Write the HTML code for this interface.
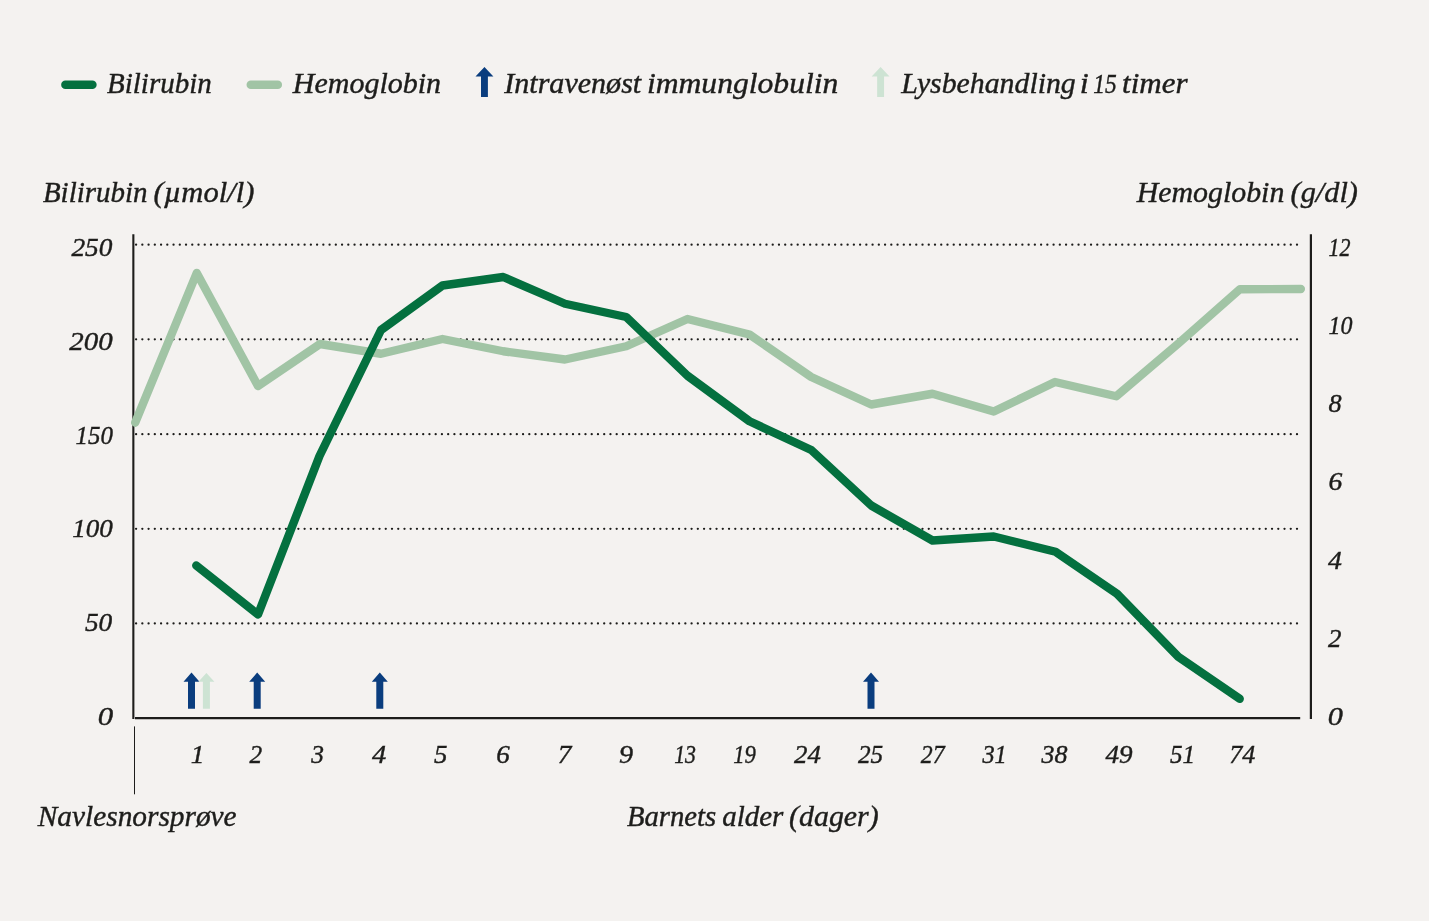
<!DOCTYPE html>
<html lang="no"><head><meta charset="utf-8"><title>Bilirubin og hemoglobin</title>
<style>html,body{margin:0;padding:0;background:#f4f2f0}svg{display:block}text{font-family:"Liberation Serif",serif;font-style:italic;fill:#1d1d1b}text{stroke:#1d1d1b;stroke-width:0.42px;paint-order:stroke}.t{font-size:30px}.n{font-size:26.2px}</style></head><body>
<svg width="1429" height="921" viewBox="0 0 1429 921">
<rect width="1429" height="921" fill="#f4f2f0"/>
<line x1="136.1" y1="244.7" x2="1297.2" y2="244.7" stroke="#1d1d1b" stroke-width="2.3" stroke-linecap="round" stroke-dasharray="0 6.2414"/>
<line x1="136.1" y1="339.3" x2="1297.2" y2="339.3" stroke="#1d1d1b" stroke-width="2.3" stroke-linecap="round" stroke-dasharray="0 6.2414"/>
<line x1="136.1" y1="434.2" x2="1297.2" y2="434.2" stroke="#1d1d1b" stroke-width="2.3" stroke-linecap="round" stroke-dasharray="0 6.2414"/>
<line x1="136.1" y1="528.8" x2="1297.2" y2="528.8" stroke="#1d1d1b" stroke-width="2.3" stroke-linecap="round" stroke-dasharray="0 6.2414"/>
<line x1="136.1" y1="623.4" x2="1297.2" y2="623.4" stroke="#1d1d1b" stroke-width="2.3" stroke-linecap="round" stroke-dasharray="0 6.2414"/>
<line x1="133.35" y1="234.3" x2="133.35" y2="718.9" stroke="#1d1d1b" stroke-width="2.1"/>
<line x1="135.0" y1="718.1" x2="1300.2" y2="718.1" stroke="#1d1d1b" stroke-width="2.1"/>
<line x1="1310.9" y1="234.3" x2="1310.9" y2="718.9" stroke="#1d1d1b" stroke-width="2.2"/>
<line x1="134.5" y1="726.4" x2="134.5" y2="794.3" stroke="#1d1d1b" stroke-width="1"/>
<polyline points="135.2,422.7 196.75,273 258,386 320,344 381,353.75 442.5,339 503.25,351.25 565,359.5 626.25,346.25 687.5,319 749.5,334.5 811.25,377 871.25,404.5 932.5,393.75 993.75,411.5 1055,382 1116.25,396.25 1178.5,343.4 1240,289.2 1300.85,289.05" fill="none" stroke="#a1c4a5" stroke-width="8.4" stroke-linecap="round" stroke-linejoin="round"/>
<polyline points="196.25,565.5 258,614.5 319.5,456 381,330 442.5,285.5 503.25,277 565,303.75 626.25,317 687.5,375.75 749.5,421.25 811.25,450 871.25,505.5 932.5,540.5 993.75,536.5 1055.5,551.75 1117,593.7 1178.25,656.7 1239.7,698.8" fill="none" stroke="#04703f" stroke-width="8.4" stroke-linecap="round" stroke-linejoin="round"/>
<path d="M191.5 672.6L199.5 681.8H195V708.7H188V681.8H183.5Z" fill="#0a3d7e"/>
<path d="M257.2 672.6L265.2 681.8H260.7V708.7H253.7V681.8H249.2Z" fill="#0a3d7e"/>
<path d="M379.8 672.6L387.8 681.8H383.3V708.7H376.3V681.8H371.8Z" fill="#0a3d7e"/>
<path d="M871 672.6L879 681.8H874.5V708.7H867.5V681.8H863Z" fill="#0a3d7e"/>
<path d="M206.4 672.9L214.4 681.8H209.9V708.7H202.9V681.8H198.4Z" fill="#cde3d3"/>
<line x1="65.4" y1="84.65" x2="92.4" y2="84.65" stroke="#04703f" stroke-width="8.5" stroke-linecap="round"/>
<line x1="250.8" y1="84.65" x2="277.8" y2="84.65" stroke="#a1c4a5" stroke-width="8.5" stroke-linecap="round"/>
<path d="M484.45 67L493.4 76.5H487.9V97H481V76.5H475.5Z" fill="#0a3d7e"/>
<path d="M880.6 67L889.55 76.5H884.05V97H877.15V76.5H871.65Z" fill="#cde3d3"/>
<text class="t" y="92.95"><tspan x="107.00" textLength="104.79" lengthAdjust="spacingAndGlyphs">Bilirubin</tspan></text>
<text class="t" y="92.95"><tspan x="292.84" textLength="148.17" lengthAdjust="spacingAndGlyphs">Hemoglobin</tspan></text>
<text class="t" y="92.95"><tspan x="504.26" textLength="136.96" lengthAdjust="spacingAndGlyphs">Intravenøst</tspan> <tspan x="646.94" textLength="191.41" lengthAdjust="spacingAndGlyphs">immunglobulin</tspan></text>
<text class="t" y="92.95"><tspan x="901.22" textLength="174.51" lengthAdjust="spacingAndGlyphs">Lysbehandling</tspan> <tspan x="1079.86" textLength="9.03" lengthAdjust="spacingAndGlyphs">i</tspan> <tspan x="1093.16" textLength="23.44" lengthAdjust="spacingAndGlyphs" style="font-size:27px">15</tspan> <tspan x="1122.12" textLength="65.47" lengthAdjust="spacingAndGlyphs">timer</tspan></text>
<text class="t" y="201.6"><tspan x="42.92" textLength="104.63" lengthAdjust="spacingAndGlyphs">Bilirubin</tspan> <tspan x="153.58" textLength="100.72" lengthAdjust="spacingAndGlyphs">(µmol/l)</tspan></text>
<text class="t" y="201.6"><tspan x="1136.68" textLength="147.69" lengthAdjust="spacingAndGlyphs">Hemoglobin</tspan> <tspan x="1290.58" textLength="67.31" lengthAdjust="spacingAndGlyphs">(g/dl)</tspan></text>
<text class="t" y="825.9"><tspan x="37.80" textLength="198.85" lengthAdjust="spacingAndGlyphs">Navlesnorsprøve</tspan></text>
<text class="t" y="825.9"><tspan x="626.88" textLength="89.30" lengthAdjust="spacingAndGlyphs">Barnets</tspan> <tspan x="722.16" textLength="61.24" lengthAdjust="spacingAndGlyphs">alder</tspan> <tspan x="789.08" textLength="89.61" lengthAdjust="spacingAndGlyphs">(dager)</tspan></text>
<text class="n" y="255.8"><tspan x="71.42" textLength="41.02" lengthAdjust="spacingAndGlyphs">250</tspan></text>
<text class="n" y="350.3"><tspan x="69.34" textLength="43.38" lengthAdjust="spacingAndGlyphs">200</tspan></text>
<text class="n" y="444.2"><tspan x="75.50" textLength="37.36" lengthAdjust="spacingAndGlyphs">150</tspan></text>
<text class="n" y="536.7"><tspan x="72.20" textLength="40.58" lengthAdjust="spacingAndGlyphs">100</tspan></text>
<text class="n" y="630.9"><tspan x="84.96" textLength="27.34" lengthAdjust="spacingAndGlyphs">50</tspan></text>
<text class="n" y="725.2"><tspan x="97.66" textLength="15.39" lengthAdjust="spacingAndGlyphs">0</tspan></text>
<text class="n" y="256.1"><tspan x="1328.50" textLength="22.02" lengthAdjust="spacingAndGlyphs">12</tspan></text>
<text class="n" y="334.3"><tspan x="1328.50" textLength="23.96" lengthAdjust="spacingAndGlyphs">10</tspan></text>
<text class="n" y="411.9"><tspan x="1328.50" textLength="13.09" lengthAdjust="spacingAndGlyphs">8</tspan></text>
<text class="n" y="490.4"><tspan x="1328.58" textLength="13.84" lengthAdjust="spacingAndGlyphs">6</tspan></text>
<text class="n" y="568.6"><tspan x="1328.00" textLength="13.90" lengthAdjust="spacingAndGlyphs">4</tspan></text>
<text class="n" y="646.8"><tspan x="1328.00" textLength="13.42" lengthAdjust="spacingAndGlyphs">2</tspan></text>
<text class="n" y="724.7"><tspan x="1327.74" textLength="15.10" lengthAdjust="spacingAndGlyphs">0</tspan></text>
<text class="n" y="763.2"><tspan x="190.66" textLength="13.65" lengthAdjust="spacingAndGlyphs">1</tspan></text>
<text class="n" y="763.2"><tspan x="249.46" textLength="12.64" lengthAdjust="spacingAndGlyphs">2</tspan></text>
<text class="n" y="763.2"><tspan x="311.30" textLength="12.72" lengthAdjust="spacingAndGlyphs">3</tspan></text>
<text class="n" y="763.2"><tspan x="372.00" textLength="14.22" lengthAdjust="spacingAndGlyphs">4</tspan></text>
<text class="n" y="763.2"><tspan x="434.00" textLength="13.42" lengthAdjust="spacingAndGlyphs">5</tspan></text>
<text class="n" y="763.2"><tspan x="496.20" textLength="13.50" lengthAdjust="spacingAndGlyphs">6</tspan></text>
<text class="n" y="763.2"><tspan x="557.78" textLength="13.60" lengthAdjust="spacingAndGlyphs">7</tspan></text>
<text class="n" y="763.2"><tspan x="619.08" textLength="14.09" lengthAdjust="spacingAndGlyphs">9</tspan></text>
<text class="n" y="763.2"><tspan x="674.16" textLength="21.83" lengthAdjust="spacingAndGlyphs">13</tspan></text>
<text class="n" y="763.2"><tspan x="733.20" textLength="22.70" lengthAdjust="spacingAndGlyphs">19</tspan></text>
<text class="n" y="763.2"><tspan x="794.00" textLength="26.84" lengthAdjust="spacingAndGlyphs">24</tspan></text>
<text class="n" y="763.2"><tspan x="858.00" textLength="25.23" lengthAdjust="spacingAndGlyphs">25</tspan></text>
<text class="n" y="763.2"><tspan x="920.84" textLength="23.80" lengthAdjust="spacingAndGlyphs">27</tspan></text>
<text class="n" y="763.2"><tspan x="982.38" textLength="24.36" lengthAdjust="spacingAndGlyphs">31</tspan></text>
<text class="n" y="763.2"><tspan x="1041.42" textLength="25.96" lengthAdjust="spacingAndGlyphs">38</tspan></text>
<text class="n" y="763.2"><tspan x="1105.46" textLength="27.13" lengthAdjust="spacingAndGlyphs">49</tspan></text>
<text class="n" y="763.2"><tspan x="1169.92" textLength="25.16" lengthAdjust="spacingAndGlyphs">51</tspan></text>
<text class="n" y="763.2"><tspan x="1229.32" textLength="26.07" lengthAdjust="spacingAndGlyphs">74</tspan></text>
</svg></body></html>
